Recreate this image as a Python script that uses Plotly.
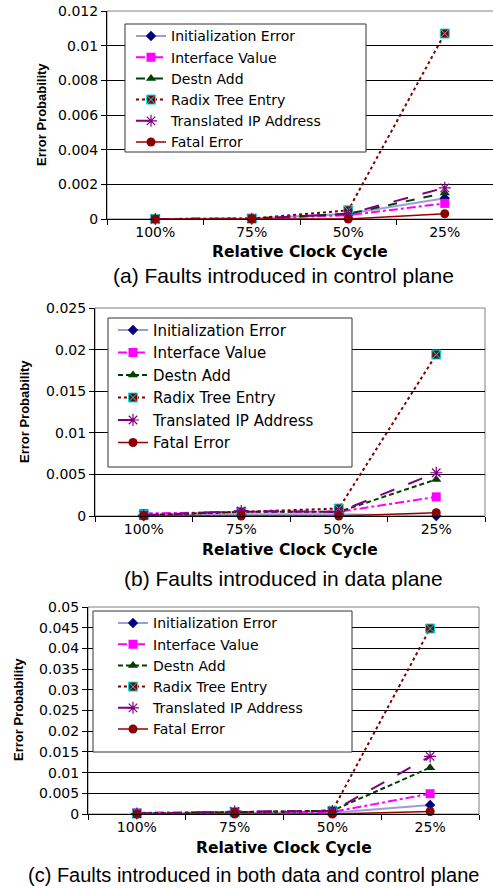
import plotly.graph_objects as go

W, H = 493, 888

categories = ["100%", "75%", "50%", "25%"]
series_names = ["Initialization Error", "Interface Value", "Destn Add",
                "Radix Tree Entry", "Translated IP Address", "Fatal Error"]

# (a) faults in control plane
init_a = [0.0, 0.00002, 0.0003, 0.0012]
iface_a = [0.0, 0.00002, 0.00022, 0.0009]
destn_a = [0.0, 0.00002, 0.0003, 0.0015]
radix_a = [0.0, 0.00003, 0.0005, 0.0107]
trans_a = [0.0, 0.00002, 0.0003, 0.0018]
fatal_a = [0.0, 0.0, 0.0, 0.0003]

# (b) faults in data plane
init_b = [0.0001, 0.0002, 0.0002, 0.0]
iface_b = [0.0003, 0.0005, 0.0005, 0.0023]
destn_b = [0.0001, 0.0005, 0.0005, 0.0044]
radix_b = [0.0001, 0.0005, 0.0009, 0.0194]
trans_b = [0.0001, 0.0006, 0.0005, 0.0052]
fatal_b = [0.0, 0.0, 0.0, 0.0004]

# (c) faults in both data and control plane
init_c = [0.0001, 0.0003, 0.0003, 0.0022]
iface_c = [0.0003, 0.0005, 0.0005, 0.0049]
destn_c = [0.0001, 0.0005, 0.0008, 0.0112]
radix_c = [0.0001, 0.0005, 0.0008, 0.0448]
trans_c = [0.0001, 0.0006, 0.0007, 0.0139]
fatal_c = [0.0, 0.0, 0.0, 0.0006]

panel_data = [
    [init_a, iface_a, destn_a, radix_a, trans_a, fatal_a],
    [init_b, iface_b, destn_b, radix_b, trans_b, fatal_b],
    [init_c, iface_c, destn_c, radix_c, trans_c, fatal_c],
]
y_ranges = [[0, 0.012], [0, 0.025], [0, 0.05]]
y_dticks = [0.002, 0.005, 0.005]
captions = ["(a) Faults introduced in control plane",
            "(b) Faults introduced in data plane",
            "(c) Faults introduced in both data and control plane"]
x_title = "Relative Clock Cycle"
y_title = "Error Probability"

styles = [
    dict(line=dict(color="#9C9CD6", width=2, dash="solid"),
         marker=dict(symbol="diamond", size=8, color="#000080")),
    dict(line=dict(color="#FF00FF", width=2, dash="dashdot"),
         marker=dict(symbol="square", size=9, color="#FF00FF")),
    dict(line=dict(color="#004000", width=2, dash="dash"),
         marker=dict(symbol="triangle-up", size=9, color="#004000")),
    dict(line=dict(color="#800000", width=2, dash="dot"),
         marker=dict(symbol="square-x", size=9, color="#800000",
                     line=dict(color="#00E5E5", width=1))),
    dict(line=dict(color="#800080", width=2, dash="longdash"),
         marker=dict(symbol="asterisk-open", size=10, color="#800080",
                     line=dict(color="#800080", width=1.2))),
    dict(line=dict(color="#990000", width=1.5, dash="solid"),
         marker=dict(symbol="circle", size=9, color="#8B0000")),
]
# the data/control-plane panels use shorter dashes for "Destn Add"
destn_dash = ["dash", "5px,3px", "5px,3px"]

# pixel layout of each panel
panels = [
    dict(l=107, r=W, t=11, b=219, xt=252, cap=276, capx=283, cap_size=21,
         yt_x=42, yt_y=115,
         box=(125, 366, 24, 152), text_x=171, row0=36, leg_font=14, leg_gap=0),
    dict(l=95, r=485, t=308, b=516, xt=550, cap=578, capx=283, cap_size=21,
         yt_x=25, yt_y=412,
         box=(108, 352, 318, 467), text_x=153, row0=330, leg_font=15, leg_gap=2.5),
    dict(l=88, r=479, t=607, b=814, xt=848, cap=875, capx=26, cap_size=20,
         yt_x=18, yt_y=710,
         box=(93, 352, 611, 752), text_x=153, row0=623, leg_font=14, leg_gap=2.2),
]

fig = go.Figure()
layout = dict(width=W, height=H,
              margin=dict(l=0, r=0, t=0, b=0, pad=0, autoexpand=False),
              paper_bgcolor="white", plot_bgcolor="white", showlegend=True)
annotations = []
shapes = []

for p, (pp, data) in enumerate(zip(panels, panel_data)):
    sfx = "" if p == 0 else str(p + 1)
    legname = "legend" + sfx
    for k, (name, vals) in enumerate(zip(series_names, data)):
        line = dict(styles[k]["line"])
        if k == 2:
            line["dash"] = destn_dash[p]
        fig.add_trace(go.Scatter(
            x=categories, y=vals, name=name, mode="lines+markers",
            xaxis="x" + sfx, yaxis="y" + sfx, legend=legname,
            legendgroup=f"p{p}s{k}", cliponaxis=False,
            line=line, marker=styles[k]["marker"]))
    layout["xaxis" + sfx] = dict(
        domain=[pp["l"] / W, pp["r"] / W], anchor="y" + sfx, automargin=False,
        type="category", categoryorder="array", categoryarray=categories,
        range=[-0.5, 3.5], showline=True, linecolor="black", linewidth=1,
        ticks="outside", tickson="boundaries", ticklen=5, tickcolor="black",
        showgrid=False, zeroline=False,
        tickfont=dict(family="DejaVu Sans", size=14, color="black"))
    layout["yaxis" + sfx] = dict(
        domain=[1 - pp["b"] / H, 1 - pp["t"] / H], anchor="x" + sfx, automargin=False,
        range=y_ranges[p], dtick=y_dticks[p], tick0=0,
        showline=True, linecolor="black", linewidth=1,
        ticks="outside", ticklen=5, tickcolor="black",
        showgrid=True, gridcolor="#000000", gridwidth=1, zeroline=False,
        tickfont=dict(family="DejaVu Sans", size=14, color="black"))
    item_h = max(pp["leg_font"] * 1.3, 16) + 3
    leg_top = pp["row0"] - item_h / 2 - 5
    layout[legname] = dict(
        x=(pp["text_x"] - 40) / W, y=1 - leg_top / H, xanchor="left", yanchor="top",
        bgcolor="rgba(0,0,0,0)", borderwidth=0,
        font=dict(family="DejaVu Sans", size=pp["leg_font"], color="black"),
        tracegroupgap=pp["leg_gap"], traceorder="normal")
    bx0, bx1, by0, by1 = pp["box"]
    shapes.append(dict(type="rect", xref="paper", yref="paper",
                       x0=bx0 / W, x1=bx1 / W, y0=1 - by1 / H, y1=1 - by0 / H,
                       fillcolor="white", line=dict(color="#333333", width=1),
                       layer="above"))
    shapes.append(dict(type="rect", xref=f"x{sfx} domain", yref=f"y{sfx} domain",
                       x0=0, x1=1.02 if p == 0 else 1, y0=0, y1=1,
                       line=dict(color="#808080", width=1), layer="below"))
    annotations.append(dict(
        text=f"<b>{x_title}</b>", xref=f"x{sfx} domain", x=0.5,
        yref="paper", y=1 - pp["xt"] / H, xanchor="center", yanchor="middle",
        showarrow=False, font=dict(family="DejaVu Sans", size=15.5, color="black")))
    annotations.append(dict(
        text=f"<b>{y_title}</b>", xref="paper", x=pp["yt_x"] / W,
        yref="paper", y=1 - pp["yt_y"] / H, xanchor="center", yanchor="middle",
        textangle=-90, showarrow=False,
        font=dict(family="Liberation Sans", size=13, color="black")))
    annotations.append(dict(
        text=captions[p], xref="paper", x=pp["capx"] / W,
        yref="paper", y=1 - pp["cap"] / H,
        xanchor="center" if p < 2 else "left", yanchor="middle",
        showarrow=False,
        font=dict(family="Liberation Sans", size=pp["cap_size"], color="black")))

layout["annotations"] = annotations
layout["shapes"] = shapes
fig.update_layout(**layout)
fig.write_html(
    "out.html", config={"displayModeBar": False},
    post_script="document.body.style.margin='0';document.body.style.overflow='hidden';")
